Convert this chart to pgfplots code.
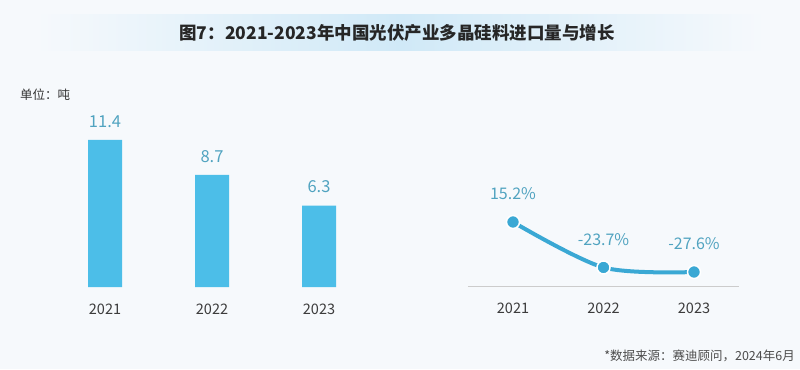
\documentclass[border=0pt]{standalone}
\usepackage{pgfplots}
\pgfplotsset{compat=1.18}
\usepackage{fontspec}
\setmainfont{Noto Sans CJK SC}
\definecolor{bg}{RGB}{246,249,252}
\definecolor{barc}{RGB}{76,190,232}
\definecolor{linec}{RGB}{58,168,212}
\definecolor{lab}{RGB}{80,163,192}
\definecolor{titleband}{RGB}{208,233,247}
\definecolor{tick}{RGB}{60,60,60}
\begin{document}
\begin{tikzpicture}[x=1bp,y=1bp]
\path[use as bounding box, fill=bg] (0,0) rectangle (800,369);
\shade[left color=bg, right color=titleband] (36,319) rectangle (400,354);
\shade[left color=titleband, right color=bg] (400,319) rectangle (765,354);
\node[font=\bfseries\fontsize{17.5bp}{20bp}\selectfont, text=black!85] at (397,336) {图7：2021-2023年中国光伏产业多晶硅料进口量与增长};
\node[anchor=west, font=\fontsize{12.5bp}{14bp}\selectfont, text=black!80, inner sep=0pt] at (20,274) {单位：吨};
\node[anchor=east, font=\fontsize{12.5bp}{14bp}\selectfont, text=black!70, inner sep=0pt] at (795,13) {*数据来源：赛迪顾问，2024年6月};

\begin{axis}[
  at={(24.75bp,82bp)}, anchor=south west,
  scale only axis, width=374.5bp, height=167.7bp,
  xmin=-0.75, xmax=2.75, ymin=0, ymax=13,
  axis x line*=bottom, axis y line=none,
  x axis line style={draw=none},
  major tick length=0pt,
  xtick={0,1,2}, xticklabels={2021,2022,2023},
  xticklabel style={font=\fontsize{14.5bp}{16bp}\selectfont, text=tick, yshift=-13bp},
  ytick=\empty,
  clip=false,
]
\addplot[ybar, bar width=34bp, fill=barc, draw=none,
  nodes near coords, point meta=explicit symbolic,
  every node near coord/.append style={font=\fontsize{16.5bp}{18bp}\selectfont, text=lab, yshift=9bp}]
  coordinates {(0,11.4)[11.4] (1,8.7)[8.7] (2,6.3)[6.3]};
\end{axis}

\begin{axis}[
  at={(467.75bp,82.5bp)}, anchor=south west,
  scale only axis, width=271.5bp, height=70.1bp,
  xmin=-0.5, xmax=2.5, ymin=-40, ymax=20,
  axis x line*=bottom, axis y line=none,
  x axis line style={draw=black!20, line width=1bp},
  major tick length=0pt,
  xtick={0,1,2}, xticklabels={2021,2022,2023},
  xticklabel style={font=\fontsize{14.5bp}{16bp}\selectfont, text=tick, yshift=-13bp},
  ytick=\empty,
  clip=false,
]
\addplot[linec, line width=4bp, smooth, mark=*, mark size=6.5bp,
  mark options={fill=linec, draw=white, line width=1.5bp},
  nodes near coords, point meta=explicit symbolic,
  every node near coord/.append style={font=\fontsize{16bp}{18bp}\selectfont, text=lab, yshift=18bp}]
  coordinates {(0,15.2)[15.2\%] (1,-23.7)[-23.7\%] (2,-27.6)[-27.6\%]};
\end{axis}
\end{tikzpicture}
\end{document}
